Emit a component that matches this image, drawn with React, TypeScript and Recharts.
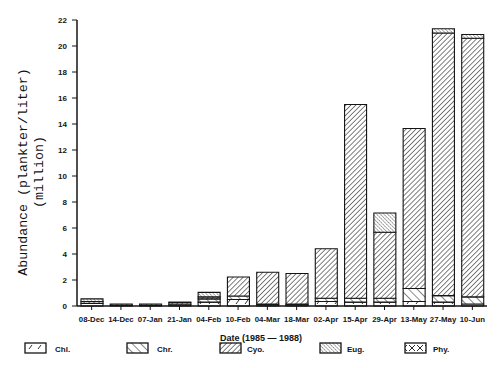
import React from "react";
import { BarChart, Bar, XAxis, YAxis } from "recharts";

const categories = ["08-Dec", "14-Dec", "07-Jan", "21-Jan", "04-Feb", "10-Feb", "04-Mar", "18-Mar", "02-Apr", "15-Apr", "29-Apr", "13-May", "27-May", "10-Jun"];
const chl = [0.2, 0.05, 0.05, 0.1, 0.3, 0.5, 0.1, 0.1, 0.35, 0.3, 0.3, 0.35, 0.3, 0.15];
const chr = [0, 0, 0, 0, 0.25, 0.27, 0.05, 0.05, 0.25, 0.3, 0.3, 1.0, 0.5, 0.55];
const cyo = [0.15, 0.1, 0.1, 0.15, 0.15, 1.46, 2.45, 2.35, 3.8, 14.9, 5.07, 12.3, 20.2, 19.9];
const eug = [0.2, 0, 0, 0.05, 0.35, 0, 0, 0, 0, 0, 1.48, 0, 0.33, 0.28];
const phy = [0, 0, 0, 0, 0, 0, 0, 0, 0, 0, 0, 0, 0, 0];
const yTicks = [0, 2, 4, 6, 8, 10, 12, 14, 16, 18, 20, 22];

const seriesNames = ["Chl.", "Chr.", "Cyo.", "Eug.", "Phy."];
const seriesKeys = ["chl", "chr", "cyo", "eug", "phy"];

const data = categories.map((date, i) => ({
  date,
  chl: chl[i],
  chr: chr[i],
  cyo: cyo[i],
  eug: eug[i],
  phy: phy[i],
}));

const INK = "#141414";
const SANS = "'Liberation Sans', Arial, sans-serif";

function Patterns() {
  return (
    <defs>
      <pattern id="pat-chl" width="9" height="9" patternUnits="userSpaceOnUse">
        <rect width="9" height="9" fill="#fff" />
        <line x1="2" y1="7" x2="5" y2="3" stroke={INK} strokeWidth="0.9" />
      </pattern>
      <pattern id="pat-chr" width="6" height="6" patternUnits="userSpaceOnUse" patternTransform="rotate(-45)">
        <rect width="6" height="6" fill="#fff" />
        <line x1="0" y1="0" x2="0" y2="6" stroke={INK} strokeWidth="1" />
      </pattern>
      <pattern id="pat-cyo" width="3.5" height="3.5" patternUnits="userSpaceOnUse" patternTransform="rotate(45)">
        <rect width="3.5" height="3.5" fill="#fff" />
        <line x1="0" y1="0" x2="0" y2="3.5" stroke={INK} strokeWidth="1.1" />
      </pattern>
      <pattern id="pat-eug" width="2.6" height="2.6" patternUnits="userSpaceOnUse" patternTransform="rotate(-45)">
        <rect width="2.6" height="2.6" fill="#fff" />
        <line x1="0" y1="0" x2="0" y2="2.6" stroke={INK} strokeWidth="0.9" strokeDasharray="1.6 0.6" />
      </pattern>
      <pattern id="pat-phy" width="8" height="8" patternUnits="userSpaceOnUse">
        <rect width="8" height="8" fill="#fff" />
        <line x1="1" y1="1" x2="7" y2="7" stroke={INK} strokeWidth="0.9" />
        <line x1="7" y1="1" x2="1" y2="7" stroke={INK} strokeWidth="0.9" />
      </pattern>
    </defs>
  );
}

function XTick(props: any) {
  const { x, y, payload } = props;
  return (
    <text x={x} y={y} dy="0.71em" textAnchor="middle" fontFamily={SANS} fontWeight="bold" fontSize={7.8} fill={INK}>
      {payload.value}
    </text>
  );
}

function YLabel() {
  const cx = 23;
  const cx2 = 39;
  const cy = 172;
  return (
    <g>
      <text x={cx} y={cy} transform={`rotate(-90 ${cx} ${cy})`} textAnchor="middle" dominantBaseline="central" fontFamily="'Liberation Mono', monospace" fontSize={13.3} fill="#111">
        Abundance (plankter/liter)
      </text>
      <text x={cx2} y={cy} transform={`rotate(-90 ${cx2} ${cy})`} textAnchor="middle" dominantBaseline="central" fontFamily="'Liberation Mono', monospace" fontSize={13.3} fill="#111">
        (million)
      </text>
    </g>
  );
}

const legendPos = [
  { sx: 25, tx: 55 },
  { sx: 127, tx: 157 },
  { sx: 220, tx: 247 },
  { sx: 320, tx: 347 },
  { sx: 405, tx: 433 },
];

export default function App() {
  return (
    <div style={{ position: "absolute", left: 0, top: 0, width: 500, height: 368, background: "#fff" }}>
      <svg width={0} height={0} style={{ position: "absolute" }}>
        <Patterns />
      </svg>
      <BarChart width={500} height={368} data={data} margin={{ top: 20, right: 13, bottom: 42, left: 17 }} barSize={22}>
        <XAxis
          dataKey="date"
          interval={0}
          tick={<XTick />}
          tickSize={4}
          tickMargin={6}
          height={20}
          axisLine={{ stroke: INK, strokeWidth: 1.5 }}
          tickLine={{ stroke: INK }}
        />
        <XAxis xAxisId="top" dataKey="date" orientation="top" height={0} tick={false} tickLine={false} axisLine={{ stroke: INK, strokeWidth: 1.5 }} />
        <YAxis
          domain={[0, 22]}
          ticks={yTicks}
          interval={0}
          width={60}
          tickSize={5}
          tickMargin={5}
          tick={{ fontFamily: SANS, fontWeight: "bold", fontSize: 8, fill: INK }}
          axisLine={{ stroke: INK, strokeWidth: 1.5 }}
          tickLine={{ stroke: INK }}
          label={{ content: <YLabel /> }}
        />
        <YAxis yAxisId="r" orientation="right" domain={[0, 22]} width={0} tick={false} tickLine={false} axisLine={{ stroke: INK, strokeWidth: 1.5 }} />
        {seriesKeys.map((k) => (
          <Bar key={k} dataKey={k} stackId="a" fill={`url(#pat-${k})`} stroke={INK} strokeWidth={1.1} isAnimationActive={false} />
        ))}
      </BarChart>
      <svg width={500} height={368} style={{ position: "absolute", left: 0, top: 0, pointerEvents: "none" }}>
        <text x={220} y={341} fontFamily={SANS} fontWeight="bold" fontSize={9} fill={INK}>
          Date (1985 — 1988)
        </text>
        {seriesKeys.map((k, i) => (
          <g key={k}>
            <rect x={legendPos[i].sx} y={343} width={21} height={10} fill={`url(#pat-${k})`} stroke={INK} strokeWidth={1.3} />
            <text x={legendPos[i].tx} y={349} dominantBaseline="central" fontFamily={SANS} fontWeight="bold" fontSize={8} fill={INK}>
              {seriesNames[i]}
            </text>
          </g>
        ))}
      </svg>
    </div>
  );
}
